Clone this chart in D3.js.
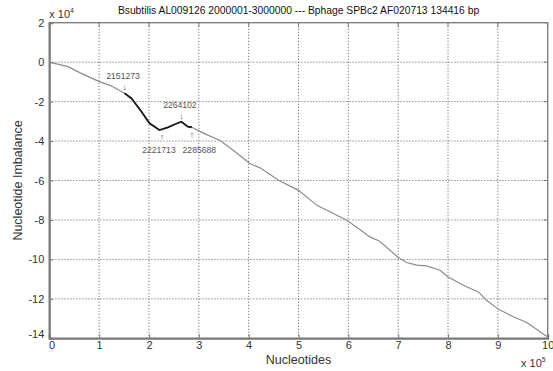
<!DOCTYPE html>
<html><head><meta charset="utf-8">
<script src="https://cdn.jsdelivr.net/npm/d3@7"></script>
<style>
html,body{margin:0;padding:0;background:#fff;}
text{font-family:"Liberation Sans",Arial,sans-serif;}
</style></head>
<body><svg id="c" width="553" height="371"></svg>
<script>
// Data (x in units of 1e5 nucleotides, y in units of 1e4)
const xTicks = [0,1,2,3,4,5,6,7,8,9,10];
const yTicks = [2,0,-2,-4,-6,-8,-10,-12,-14];
const seriesX = [0,0.04,0.375,0.64,0.98,1.24,1.51,1.65,1.85,2.01,2.21,2.38,2.52,2.65,2.78,2.86,3.02,3.18,3.42,3.69,4.03,4.23,4.6,5.0,5.37,5.57,5.97,6.3,6.43,6.63,7.0,7.17,7.37,7.57,7.84,8.0,8.37,8.61,8.77,9.01,9.31,9.58,9.95,10];
const seriesY = [0,-0.02,-0.23,-0.57,-0.96,-1.2,-1.58,-1.84,-2.51,-3.1,-3.44,-3.31,-3.15,-3.02,-3.27,-3.3,-3.51,-3.7,-3.96,-4.47,-5.15,-5.36,-5.99,-6.5,-7.26,-7.51,-8.01,-8.61,-8.86,-9.08,-9.9,-10.16,-10.29,-10.33,-10.55,-10.89,-11.39,-11.65,-12.07,-12.52,-12.91,-13.2,-13.84,-13.92];
const highlightRange = [1.51, 2.86];
const annotations = [
  {label:"2151273", x:1.51, dir:"\u2193"},
  {label:"2264102", x:2.65, dir:"\u2193"},
  {label:"2221713", x:2.26, dir:"\u2191"},
  {label:"2285688", x:2.86, dir:"\u2191"}
];
const title = "Bsubtilis AL009126 2000001-3000000 --- Bphage SPBc2 AF020713 134416 bp";

const svg = d3.select("#c");
const L=49.3, R=547.7, T=22.7, B=338.3;
const x = d3.scaleLinear().domain([0,10]).range([L,R]);
const y = d3.scaleLinear().domain([-14,2]).range([B,T]);
const pts = seriesX.map((v,i)=>[v,seriesY[i]]);
const interpY = v => { for(let i=1;i<pts.length;i++){ if(v<=pts[i][0]){const a=pts[i-1],b=pts[i];return a[1]+(b[1]-a[1])*(v-a[0])/(b[0]-a[0]);}} return pts[pts.length-1][1]; };

// grid
const g = svg.append("g");
g.selectAll(".gx").data(xTicks.slice(1,-1)).enter().append("line")
 .attr("x1",d=>x(d)).attr("x2",d=>x(d)).attr("y1",T).attr("y2",B)
 .attr("stroke","#7f7f7f").attr("stroke-width",1).attr("stroke-dasharray","1.3,1.7");
g.selectAll(".gy").data(yTicks.slice(1,-1)).enter().append("line")
 .attr("y1",d=>y(d)).attr("y2",d=>y(d)).attr("x1",L).attr("x2",R)
 .attr("stroke","#7f7f7f").attr("stroke-width",1).attr("stroke-dasharray","1.3,1.7");

// series
const line = d3.line().x(d=>x(d[0])).y(d=>y(d[1]));
svg.append("path").attr("d",line(pts)).attr("fill","none").attr("stroke","#8c8c8c").attr("stroke-width",1.2);
const hi = pts.filter(p=>p[0]>=highlightRange[0]&&p[0]<=highlightRange[1]);
svg.append("path").attr("d",line(hi)).attr("fill","none").attr("stroke","#1a1a1a").attr("stroke-width",1.8);

// box & axes
svg.append("rect").attr("x",L).attr("y",T).attr("width",R-L).attr("height",B-T)
 .attr("fill","none").attr("stroke","#7a7a7a").attr("stroke-width",1.3);
const ax = d3.axisBottom(x).tickValues(xTicks).tickSize(-4).tickPadding(3).tickFormat(d3.format("d"));
const axg = svg.append("g").attr("transform",`translate(0,${B})`).call(ax);
const ay = d3.axisLeft(y).tickValues(yTicks).tickSize(-4).tickPadding(5).tickFormat(d=>d);
const ayg = svg.append("g").attr("transform",`translate(${L},0)`).call(ay);
[axg,ayg].forEach(a=>{a.select(".domain").attr("stroke","#7a7a7a").attr("stroke-width",2);
 a.selectAll(".tick line").attr("stroke","#7a7a7a");
 a.selectAll("text").attr("font-size",11).attr("fill","#333").attr("font-family","Liberation Sans, Arial, sans-serif");});
ayg.selectAll(".tick").filter(d=>d===-14).select("text").attr("dy","-0.05em");
axg.selectAll(".tick").filter(d=>d===0).select("text").attr("dx","0.2em");
// right/top inner ticks
svg.selectAll(".rt").data(yTicks).enter().append("line").attr("x1",R).attr("x2",R-4).attr("y1",d=>y(d)).attr("y2",d=>y(d)).attr("stroke","#7a7a7a");
svg.selectAll(".tt").data(xTicks).enter().append("line").attr("y1",T).attr("y2",T+4).attr("x1",d=>x(d)).attr("x2",d=>x(d)).attr("stroke","#7a7a7a");

// multipliers
const m1 = svg.append("text").attr("x",L).attr("y",18).attr("font-size",11).attr("fill","#333");
m1.append("tspan").text("x 10");
m1.append("tspan").attr("font-size",7).attr("dy",-5).text("4");
const m2 = svg.append("text").attr("x",521).attr("y",367).attr("font-size",11).attr("fill","#333");
m2.append("tspan").text("x 10");
m2.append("tspan").attr("font-size",7).attr("dy",-5).text("5");

// title and labels
svg.append("text").attr("x",(L+R)/2).attr("y",14).attr("text-anchor","middle").attr("font-size",10.3).attr("fill","#111").text(title);
svg.append("text").attr("x",(L+R)/2).attr("y",364).attr("text-anchor","middle").attr("font-size",12.5).attr("fill","#333").text("Nucleotides");
svg.append("text").attr("transform",`translate(22,${(T+B)/2}) rotate(-90)`).attr("text-anchor","middle").attr("font-size",12.5).attr("fill","#333").text("Nucleotide Imbalance");

// annotations
const fs = 8.6, ac = "#555";
annotations.forEach(a=>{
  const px = x(a.x), py = y(interpY(a.x));
  if(a.dir==="\u2193"){
    svg.append("text").attr("x",px).attr("y",py-3).attr("text-anchor","middle").attr("font-size",fs).attr("fill",ac).text(a.dir);
    svg.append("text").attr("x",px-1.5).attr("y",py-14).attr("text-anchor","middle").attr("font-size",fs).attr("fill",ac).text(a.label);
  } else {
    svg.append("text").attr("x",px).attr("y",py+11).attr("text-anchor","middle").attr("font-size",fs).attr("fill",ac).text(a.dir);
  }
});
const lower = annotations.filter(a=>a.dir==="\u2191");
const lowerShift = [-3, 7.5];
lower.forEach((a,i)=>{
  const px = x(a.x);
  svg.append("text").attr("x",px+lowerShift[i]).attr("y",y(-4.6)).attr("text-anchor","middle").attr("font-size",fs).attr("fill",ac).text(a.label);
});
</script></body></html>
